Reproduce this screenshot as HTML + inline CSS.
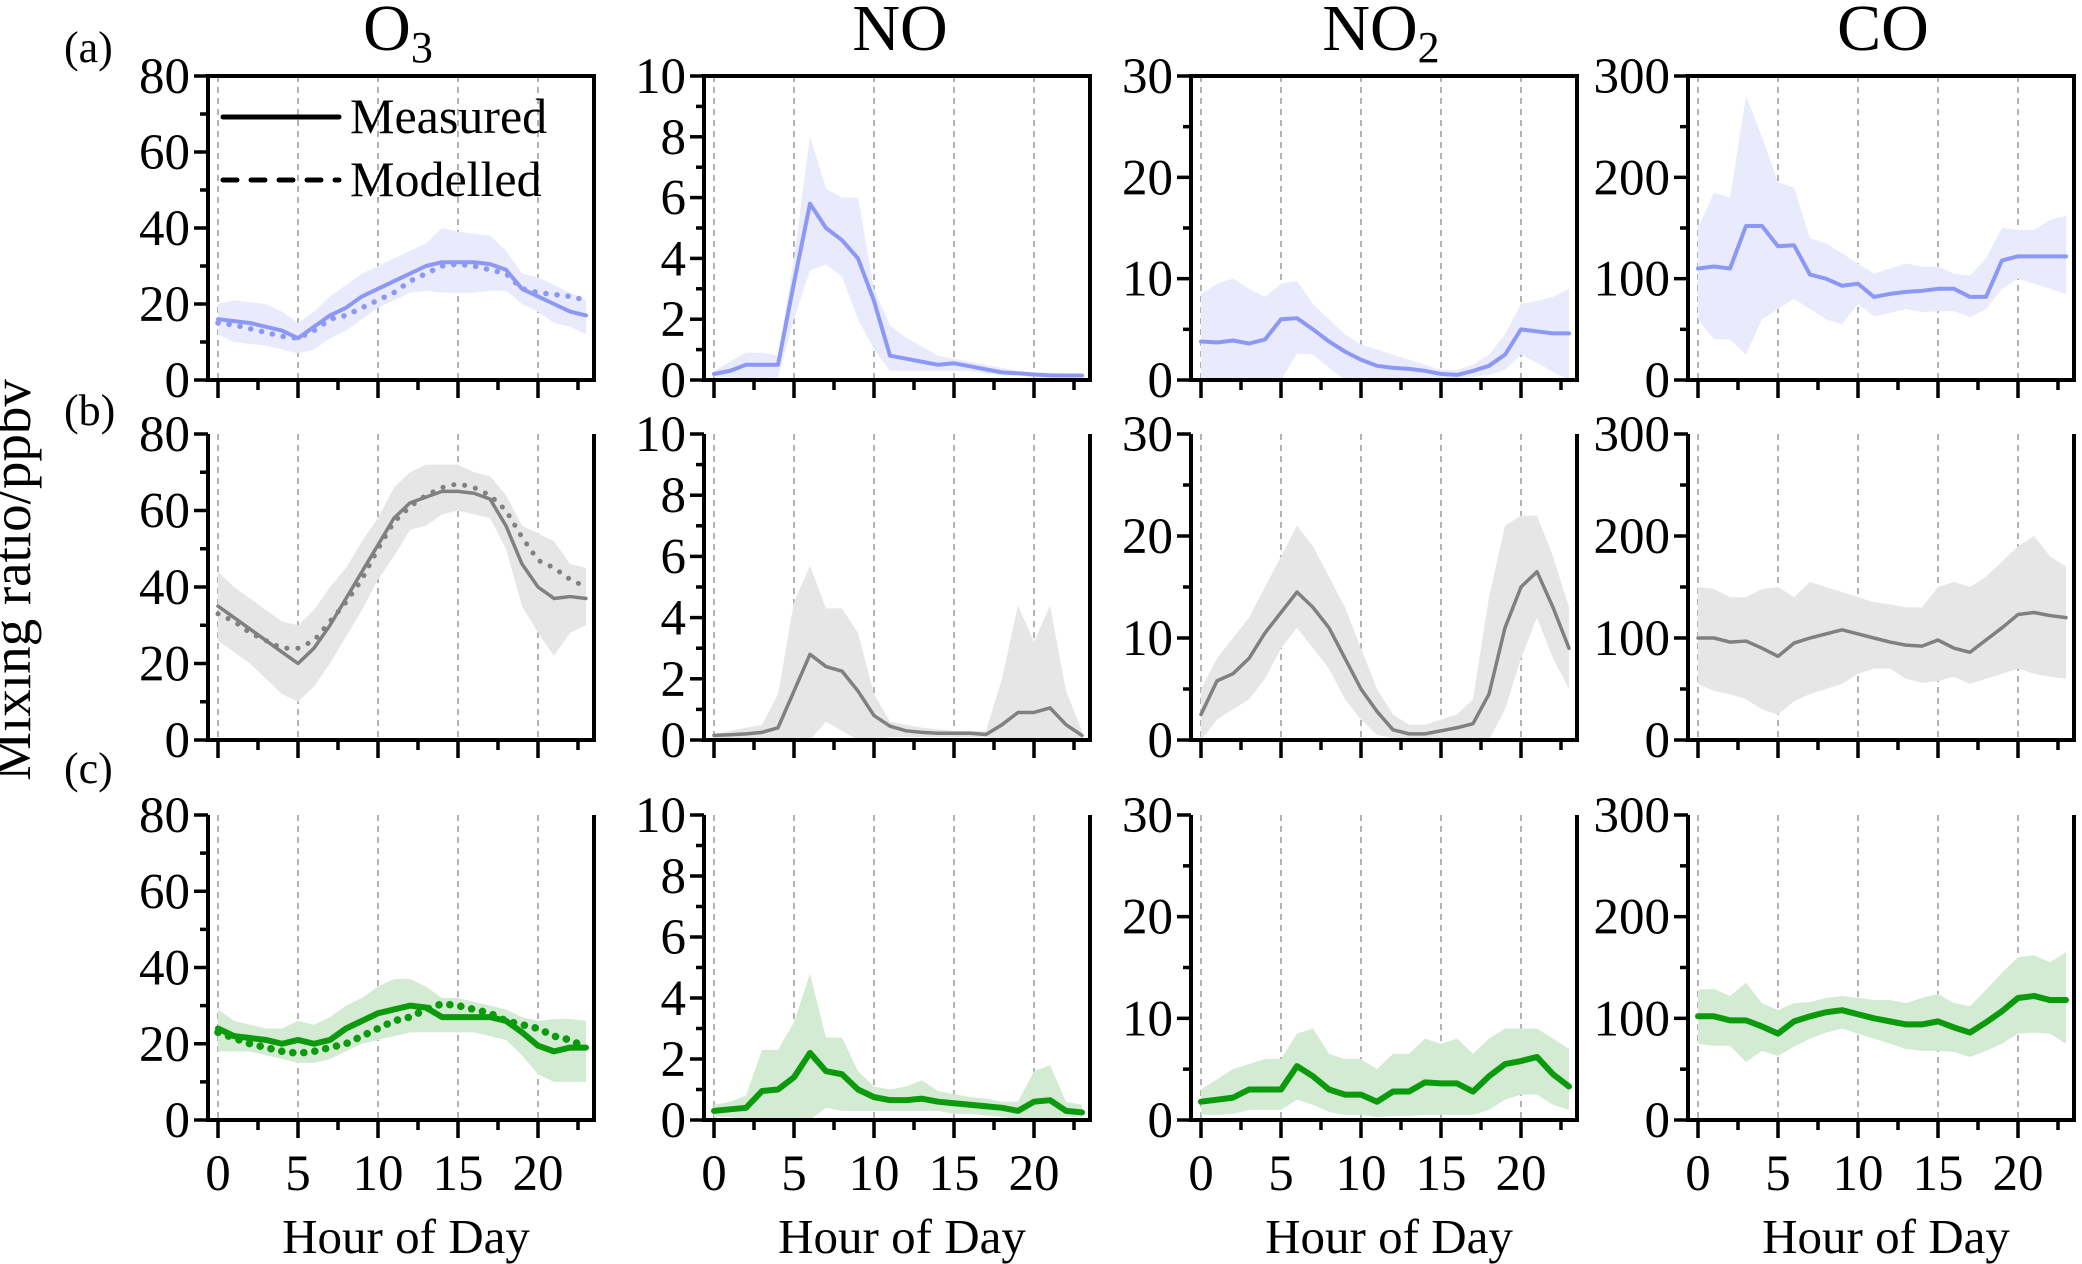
<!DOCTYPE html>
<html><head><meta charset="utf-8">
<style>
html,body{margin:0;padding:0;background:#fff;}
svg{display:block;}
svg text{font-family:"Liberation Serif","Times New Roman",serif;}
</style></head>
<body>
<svg id="fig" width="2082" height="1264" viewBox="0 0 2082 1264" xmlns="http://www.w3.org/2000/svg" font-family="'Liberation Serif', 'Times New Roman', serif">
<text x="30" y="580" font-size="55" text-anchor="middle" transform="rotate(-90 30 580)">Mixing ratio/ppbv</text>
<text x="64" y="62" font-size="44">(a)</text>
<text x="64" y="425" font-size="44">(b)</text>
<text x="64" y="783" font-size="44">(c)</text>
<text x="398" y="50" font-size="66" text-anchor="middle">O<tspan font-size="44" dy="12">3</tspan></text>
<text x="900" y="50" font-size="66" text-anchor="middle">NO</text>
<text x="1381" y="50" font-size="66" text-anchor="middle">NO<tspan font-size="44" dy="12">2</tspan></text>
<text x="1883" y="50" font-size="66" text-anchor="middle">CO</text>
<g id="panels"></g>
<g>
<line x1="223" y1="117" x2="339" y2="117" stroke="#000" stroke-width="5" stroke-linecap="round"/>
<text x="350" y="133" font-size="50">Measured</text>
<line x1="223" y1="180" x2="339" y2="180" stroke="#000" stroke-width="5" stroke-dasharray="14 14" stroke-linecap="round"/>
<text x="350" y="196" font-size="50">Modelled</text>
</g>
</svg>
<script>
// ---- data (hours 0..23) ----
const hours = [0,1,2,3,4,5,6,7,8,9,10,11,12,13,14,15,16,17,18,19,20,21,22,23];
const xTickLabels = ["0","5","10","15","20"];
// Row a
const o3aMeas = [16,15.5,15,14,13,11,14,17,19,22,24,26,28,30,31,31,31,30.5,29,24,22,20,18,17];
const o3aMod  = [15,14.5,13.5,12.5,11.5,11,13,16,17,19,21,23,26,28,30,30.5,30,29,28,24,23,22.5,22,21];
const o3aUp   = [20,21,20.5,20,18,15,18,22,25,28,30,32,34,36,40,39,38.5,38,34,28,27,25,23,21];
const o3aLo   = [12,10,9.5,9,8,7,8,11,13,16,19,21,23,23.5,23,23,23,23.5,23.5,20,18,15,14,12];
const noaMeas = [0.2,0.3,0.5,0.5,0.5,3.2,5.8,5.0,4.6,4.0,2.6,0.8,0.7,0.6,0.5,0.55,0.45,0.35,0.25,0.22,0.18,0.15,0.15,0.15];
const noaUp   = [0.3,0.6,0.9,0.9,0.8,4,8,6.3,6,6,3,1.8,1.4,1.1,0.8,0.7,0.6,0.5,0.4,0.3,0.25,0.25,0.2,0.2];
const noaLo   = [0.1,0.1,0,0,0.1,2,3.6,3.8,3.4,2,1,0.3,0.3,0.3,0.3,0.3,0.3,0.2,0.15,0.15,0.1,0.1,0.1,0.1];
const no2aMeas= [3.8,3.7,3.9,3.6,4,6,6.1,5,3.8,2.8,2,1.4,1.2,1.1,0.9,0.6,0.5,0.9,1.4,2.5,5,4.8,4.6,4.6];
const no2aUp  = [8.5,9.5,10,9,8.2,9.5,9.8,7.5,6,4.5,3.5,3,2.5,2,1.5,1,1,1.5,2.5,4.5,7.5,7.8,8.2,9];
const no2aLo  = [0,0,0,0,0,0,2.6,2.5,1.2,0,0,0,0,0,0,0.2,0.2,0.3,0.5,1,2.5,1.7,0.8,0];
const coaMeas = [110,112,110,152,152,132,133,104,100,93,95,82,85,87,88,90,90,82,82,118,122,122,122,122];
const coaUp   = [150,185,180,280,240,195,190,140,135,125,115,105,110,115,112,112,105,103,120,150,148,148,158,162];
const coaLo   = [60,40,40,25,60,70,80,70,60,55,75,63,66,70,67,68,68,62,70,90,100,95,90,85];
// Row b
const o3bMeas = [35,32,29,26,23,20,24,30,37,44,51,58,62,63.5,65,65,64.5,63,56,46,40,37,37.5,37];
const o3bMod  = [33,31,28,26,24,24,26,31,36,42,50,57,61,64,66,67,66,64,60,53,47,45,42,40];
const o3bUp   = [44,40,37,34,31,30,34,40,45,52,58,66,70,72,72,72,70,69,64,56,54,52,46,45];
const o3bLo   = [26,23,20,16,12,10,14,20,27,34,42,48,55,56,59,60,59,58,50,35,28,22,28,30];
const nobMeas = [0.15,0.17,0.2,0.25,0.4,1.6,2.8,2.4,2.25,1.6,0.8,0.45,0.3,0.25,0.22,0.22,0.22,0.18,0.5,0.9,0.9,1.05,0.5,0.15];
const nobUp   = [0.2,0.3,0.4,0.5,1.5,4.5,5.7,4.3,4.3,3.5,1.5,0.6,0.5,0.4,0.35,0.3,0.3,0.3,2,4.4,3.2,4.4,1.6,0.3];
const nobLo   = [0,0,0,0,0,0,0,0.6,0.3,0,0,0.1,0.1,0.1,0.1,0.1,0.1,0.1,0,0,0,0,0,0];
const no2bMeas= [2.5,5.8,6.5,8,10.5,12.5,14.5,13,11,8,5,2.8,1,0.6,0.6,0.9,1.2,1.6,4.5,11,15,16.5,13,9];
const no2bUp  = [5,8,10,12,15,18,21,19,16,13,9,5,2.5,1.5,1.5,2,2.5,4,14,21,22,22,18,13];
const no2bLo  = [0,2,3,4,6,9,11,9,7,4,2,0.5,0.2,0.2,0.2,0.2,0.2,0.2,0,3,8,12,8,5];
const cobMeas = [100,100,96,97,90,82,95,100,104,108,104,100,96,93,92,98,90,86,98,110,123,125,122,120];
const cobUp   = [150,148,140,140,148,150,140,155,150,145,140,135,133,130,130,150,155,150,160,175,190,200,180,170];
const cobLo   = [55,48,45,40,30,25,38,45,50,55,65,70,70,60,56,58,62,55,60,65,70,65,62,60];
// Row c
const o3cMeas = [24,22,21.5,21,20,21,20,21,24,26,28,29,30,29.5,27,27,27,27,26,23,19.5,18,19,19];
const o3cMod  = [23,21.5,20,19,18,17.5,18,19,20,22,24,26,27,29,30.5,30,29,28,26,25,24,22,21,19];
const o3cUp   = [29,26,25,24,24,26,25,27,30,32,35,37,37,35,32,32,31,30,29,27,26,26.5,26.5,26];
const o3cLo   = [18,18,18,17,16,15,15,16,18,20,21,22,23,23,23,23,23,22,21,17,12,10,10,10];
const nocMeas = [0.3,0.35,0.4,0.95,1.0,1.4,2.2,1.6,1.5,1.0,0.75,0.65,0.65,0.7,0.6,0.55,0.5,0.45,0.4,0.3,0.6,0.65,0.3,0.25];
const nocUp   = [0.5,0.6,0.8,2.3,2.3,3.2,4.8,2.7,2.7,1.6,1.1,1.0,1.1,1.3,0.95,0.85,0.75,0.7,0.6,0.6,1.6,1.8,0.6,0.5];
const nocLo   = [0.1,0.1,0,0,0,0,0,0.4,0.3,0.3,0.3,0.3,0.3,0.3,0.3,0.2,0.2,0.15,0.1,0,0,0,0.1,0.1];
const no2cMeas= [1.8,2,2.2,3,3,3,5.3,4.3,3,2.5,2.5,1.8,2.8,2.8,3.7,3.6,3.6,2.8,4.3,5.5,5.8,6.2,4.5,3.3];
const no2cUp  = [3,4,5,5.5,6,6,8.5,9,6.5,6,6,5,6.5,6.5,8,7.5,8,6.5,8,9,9,9,8,7];
const no2cLo  = [0.5,0.5,0.6,1,1,1,2,1.5,0.8,0.5,0.5,0.3,0.4,0.4,0.5,0.5,0.5,0.5,1,2,2.5,2.5,1.5,1];
const cocMeas = [102,102,98,98,92,85,97,102,106,108,104,100,97,94,94,97,91,86,96,107,120,122,118,118];
const cocUp   = [128,129,122,135,115,108,115,116,120,122,120,118,118,115,120,124,115,112,128,145,160,162,155,165];
const cocLo   = [75,73,73,57,68,63,72,80,86,90,85,80,75,70,68,68,67,62,68,75,85,86,85,75];

const species = [
 {key:'o3', max:80, step:20, minor:10, labels:["0","20","40","60","80"]},
 {key:'no', max:10, step:2, minor:1, labels:["0","2","4","6","8","10"]},
 {key:'no2', max:30, step:10, minor:5, labels:["0","10","20","30"]},
 {key:'co', max:300, step:100, minor:50, labels:["0","100","200","300"]}
];
const colLeft = [208,704,1191,1688];
const rows = [
 {id:'a', top:76, bottom:380, line:'#8c98f6', band:'#e9ebfd', lw:4, box:true},
 {id:'b', top:434, bottom:740, line:'#808080', band:'#e6e6e6', lw:3.5, box:false},
 {id:'c', top:815, bottom:1120, line:'#0b9a0b', band:'#d2ebd2', lw:6, box:false}
];
const series = {
 a:[[o3aMeas,o3aUp,o3aLo,o3aMod],[noaMeas,noaUp,noaLo],[no2aMeas,no2aUp,no2aLo],[coaMeas,coaUp,coaLo]],
 b:[[o3bMeas,o3bUp,o3bLo,o3bMod],[nobMeas,nobUp,nobLo],[no2bMeas,no2bUp,no2bLo],[cobMeas,cobUp,cobLo]],
 c:[[o3cMeas,o3cUp,o3cLo,o3cMod],[nocMeas,nocUp,nocLo],[no2cMeas,no2cUp,no2cLo],[cocMeas,cocUp,cocLo]]
};
const NS='http://www.w3.org/2000/svg';
const root=document.getElementById('panels');
function mk(tag,attrs,parent){const e=document.createElementNS(NS,tag);for(const k in attrs)e.setAttribute(k,attrs[k]);parent.appendChild(e);return e;}

rows.forEach((r,ri)=>{
 species.forEach((s,ci)=>{
  const L=colLeft[ci], R=L+386, T=r.top, B=r.bottom;
  const xs=h=>L+10+h*16;
  const ys=v=>B-(v/s.max)*(B-T);
  const g=mk('g',{},root);
  
  
  [0,5,10,15,20].forEach(h=>{
   const gl=mk('line',{x1:xs(h),x2:xs(h),y1:T,y2:B,stroke:'#888','stroke-width':1.3,'stroke-dasharray':'6 5'},g);
   
   
  });
  const d=series[r.id][ci];
  let pts=hours.map((h,i)=>xs(h)+','+ys(Math.max(0,d[1][i])));
  pts=pts.concat(hours.slice().reverse().map(h=>xs(h)+','+ys(Math.max(0,d[2][h]))));
  const band=mk('polygon',{points:pts.join(' '),fill:r.band},g);
  
  
  const ml=mk('polyline',{points:hours.map((h,i)=>xs(h)+','+ys(d[0][i])).join(' '),fill:'none',stroke:r.line,'stroke-width':r.lw,'stroke-linejoin':'round','stroke-linecap':'round'},g);
  
  
  if(d[3]){
   const mo=mk('polyline',{points:hours.map((h,i)=>xs(h)+','+ys(d[3][i])).join(' '),fill:'none',stroke:r.line,'stroke-width':r.lw+1.5,'stroke-dasharray':'0.1 11','stroke-linecap':'round'},g);
   
   
  }
  let fp='M'+L+','+T+' L'+L+','+B+' L'+R+','+B+' L'+R+','+T;
  if(r.box) fp+=' Z';
  const fr=mk('path',{d:fp,fill:'none',stroke:'#000','stroke-width':4},g);
  
  
  for(let v=0; v<=s.max+1e-9; v+=s.minor){
   const major=Math.abs(v/s.step-Math.round(v/s.step))<1e-6;
   const t=mk('line',{x1:L,x2:L-(major?14:8),y1:ys(v),y2:ys(v),stroke:'#000','stroke-width':3.5},g);
   
   
  }
  s.labels.forEach((lab,i)=>{
   const tx=mk('text',{x:L-18,y:ys(i*s.step)+17,'font-size':51,'text-anchor':'end'},g);
   tx.textContent=lab;
   
   
  });
  for(let h=0; h<=22.5; h+=2.5){
   const major=(h%5===0);
   const t=mk('line',{x1:xs(h),x2:xs(h),y1:B,y2:B+(major?18:10),stroke:'#000','stroke-width':3.5},g);
   
   
  }
  if(r.id==='c'){
   xTickLabels.forEach((lab,i)=>{
    const tx=mk('text',{x:xs(i*5),y:1190,'font-size':51,'text-anchor':'middle'},g);
    tx.textContent=lab;
    
    
   });
   const xt=mk('text',{x:(L+R)/2+5,y:1253,'font-size':49,'text-anchor':'middle'},g);
   xt.textContent='Hour of Day';
   
   
  }
 });
});
</script>
</body></html>
